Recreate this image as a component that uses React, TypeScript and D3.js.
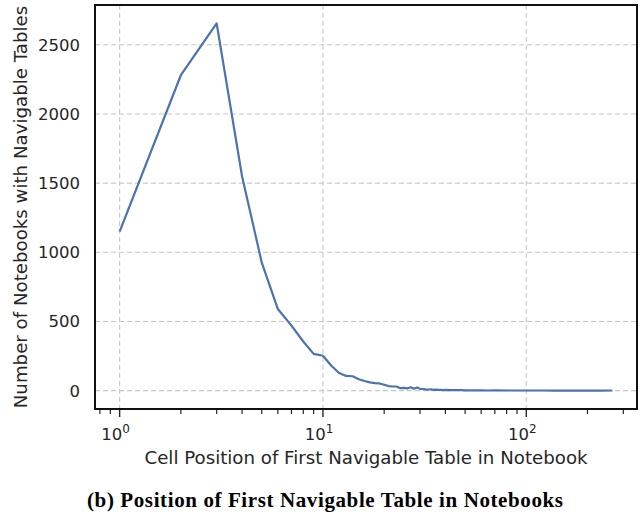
import * as d3 from "d3";
import { useEffect, useRef } from "react";

// cell position of the first navigable table (log x)
const positions = [
  1, 2, 3, 4, 5, 6, 7, 8, 9, 10, 11, 12, 13, 14, 15, 16, 17, 18, 19, 20,
  21, 22, 23, 24, 25, 26, 27, 28, 29, 30, 31, 32, 33, 34, 35, 36, 37, 38, 39, 40,
  42, 44, 46, 48, 50, 55, 60, 65, 70, 80, 90, 100, 120, 140, 160, 180, 200, 230, 265,
];
// number of notebooks
const counts = [
  1150, 2280, 2655, 1550, 925, 590, 470, 355, 266, 252, 180, 128, 106, 104, 82, 70, 60, 54, 52, 43,
  33, 30, 30, 18, 20, 16, 24, 14, 23, 13, 12, 9, 8, 10, 6, 7, 5, 6, 4, 5,
  4, 3, 4, 3, 2, 2, 2, 1, 2, 1, 1, 1, 1, 0, 1, 0, 1, 0, 1,
];
const yTicks = [0, 500, 1000, 1500, 2000, 2500];
const xMajor = [1, 10, 100];

const xLabel = "Cell Position of First Navigable Table in Notebook";
const yLabel = "Number of Notebooks with Navigable Tables";
const caption = "(b) Position of First Navigable Table in Notebooks";

export default function App() {
  const ref = useRef<SVGSVGElement | null>(null);

  useEffect(() => {
    const width = 642;
    const height = 519;
    const left = 95;
    const right = 637;
    const top = 5;
    const bottom = 409;
    const font = "'DejaVu Sans', sans-serif";
    const ink = "#262626";

    const svg = d3.select(ref.current);
    svg.selectAll("*").remove();
    svg.attr("width", width).attr("height", height);

    // matplotlib-style 5% margins (log space for x)
    const lx = d3.extent(positions.map((p) => Math.log10(p))) as [number, number];
    const px = (lx[1] - lx[0]) * 0.05;
    const x = d3
      .scaleLog()
      .domain([Math.pow(10, lx[0] - px), Math.pow(10, lx[1] + px)])
      .range([left, right]);

    const ymax = d3.max(counts)!;
    const y = d3
      .scaleLinear()
      .domain([-ymax * 0.05, ymax * 1.05])
      .range([bottom, top]);

    // grid
    const grid = svg.append("g");
    yTicks.forEach((t) => {
      grid
        .append("line")
        .attr("x1", left)
        .attr("x2", right)
        .attr("y1", y(t))
        .attr("y2", y(t))
        .attr("stroke", "#c8c8c8")
        .attr("stroke-width", 1.1)
        .attr("stroke-dasharray", "5,3");
    });
    xMajor.forEach((t) => {
      grid
        .append("line")
        .attr("x1", x(t))
        .attr("x2", x(t))
        .attr("y1", top)
        .attr("y2", bottom)
        .attr("stroke", "#c8c8c8")
        .attr("stroke-width", 1.1)
        .attr("stroke-dasharray", "5,3");
    });

    // line
    const line = d3
      .line<number>()
      .x((_, i) => x(positions[i]))
      .y((d) => y(d));
    svg
      .append("path")
      .datum(counts)
      .attr("d", line)
      .attr("fill", "none")
      .attr("stroke", "#4c72b0")
      .attr("stroke-width", 2.2)
      .attr("stroke-linejoin", "round");

    // x ticks (major + minor)
    const [d0, d1] = x.domain();
    const minor: number[] = [];
    for (let e = -1; e <= 3; e++) {
      for (let m = 2; m <= 9; m++) {
        const v = m * Math.pow(10, e);
        if (v >= d0 && v <= d1) minor.push(v);
      }
    }
    const ticks = svg.append("g");
    minor.forEach((t) => {
      ticks
        .append("line")
        .attr("x1", x(t))
        .attr("x2", x(t))
        .attr("y1", bottom)
        .attr("y2", bottom + 5)
        .attr("stroke", ink)
        .attr("stroke-width", 1.2);
    });
    xMajor.forEach((t, i) => {
      ticks
        .append("line")
        .attr("x1", x(t))
        .attr("x2", x(t))
        .attr("y1", bottom)
        .attr("y2", bottom + 8)
        .attr("stroke", ink)
        .attr("stroke-width", 1.4);
      const label = ticks
        .append("text")
        .attr("x", x(t) - 4)
        .attr("y", 440)
        .attr("text-anchor", "middle")
        .attr("font-family", font)
        .attr("font-size", 16.5)
        .attr("fill", ink);
      label.append("tspan").text("10");
      label
        .append("tspan")
        .attr("dy", -7)
        .attr("font-size", 12)
        .text(String(i));
    });

    // y tick labels
    yTicks.forEach((t) => {
      svg
        .append("text")
        .attr("x", 80)
        .attr("y", y(t))
        .attr("dy", "0.36em")
        .attr("text-anchor", "end")
        .attr("font-family", font)
        .attr("font-size", 16.5)
        .attr("fill", ink)
        .text(t);
    });

    // frame
    svg
      .append("rect")
      .attr("x", left)
      .attr("y", top)
      .attr("width", right - left)
      .attr("height", bottom - top)
      .attr("fill", "none")
      .attr("stroke", "#111")
      .attr("stroke-width", 2);

    // axis titles
    svg
      .append("text")
      .attr("x", 366)
      .attr("y", 464)
      .attr("text-anchor", "middle")
      .attr("font-family", font)
      .attr("font-size", 18.2)
      .attr("fill", ink)
      .text(xLabel);
    svg
      .append("text")
      .attr("transform", `translate(27, ${(top + bottom) / 2}) rotate(-90)`)
      .attr("text-anchor", "middle")
      .attr("font-family", font)
      .attr("font-size", 18.2)
      .attr("fill", ink)
      .text(yLabel);

    // caption
    svg
      .append("text")
      .attr("x", 325)
      .attr("y", 507)
      .attr("text-anchor", "middle")
      .attr("font-family", "'Liberation Serif', serif")
      .attr("font-weight", "bold")
      .attr("font-size", 21)
      .attr("textLength", 476)
      .attr("lengthAdjust", "spacing")
      .attr("fill", "#000")
      .text(caption);
  }, []);

  return (
    <div style={{ position: "absolute", left: 0, top: 0, background: "#fff" }}>
      <svg ref={ref}></svg>
    </div>
  );
}
